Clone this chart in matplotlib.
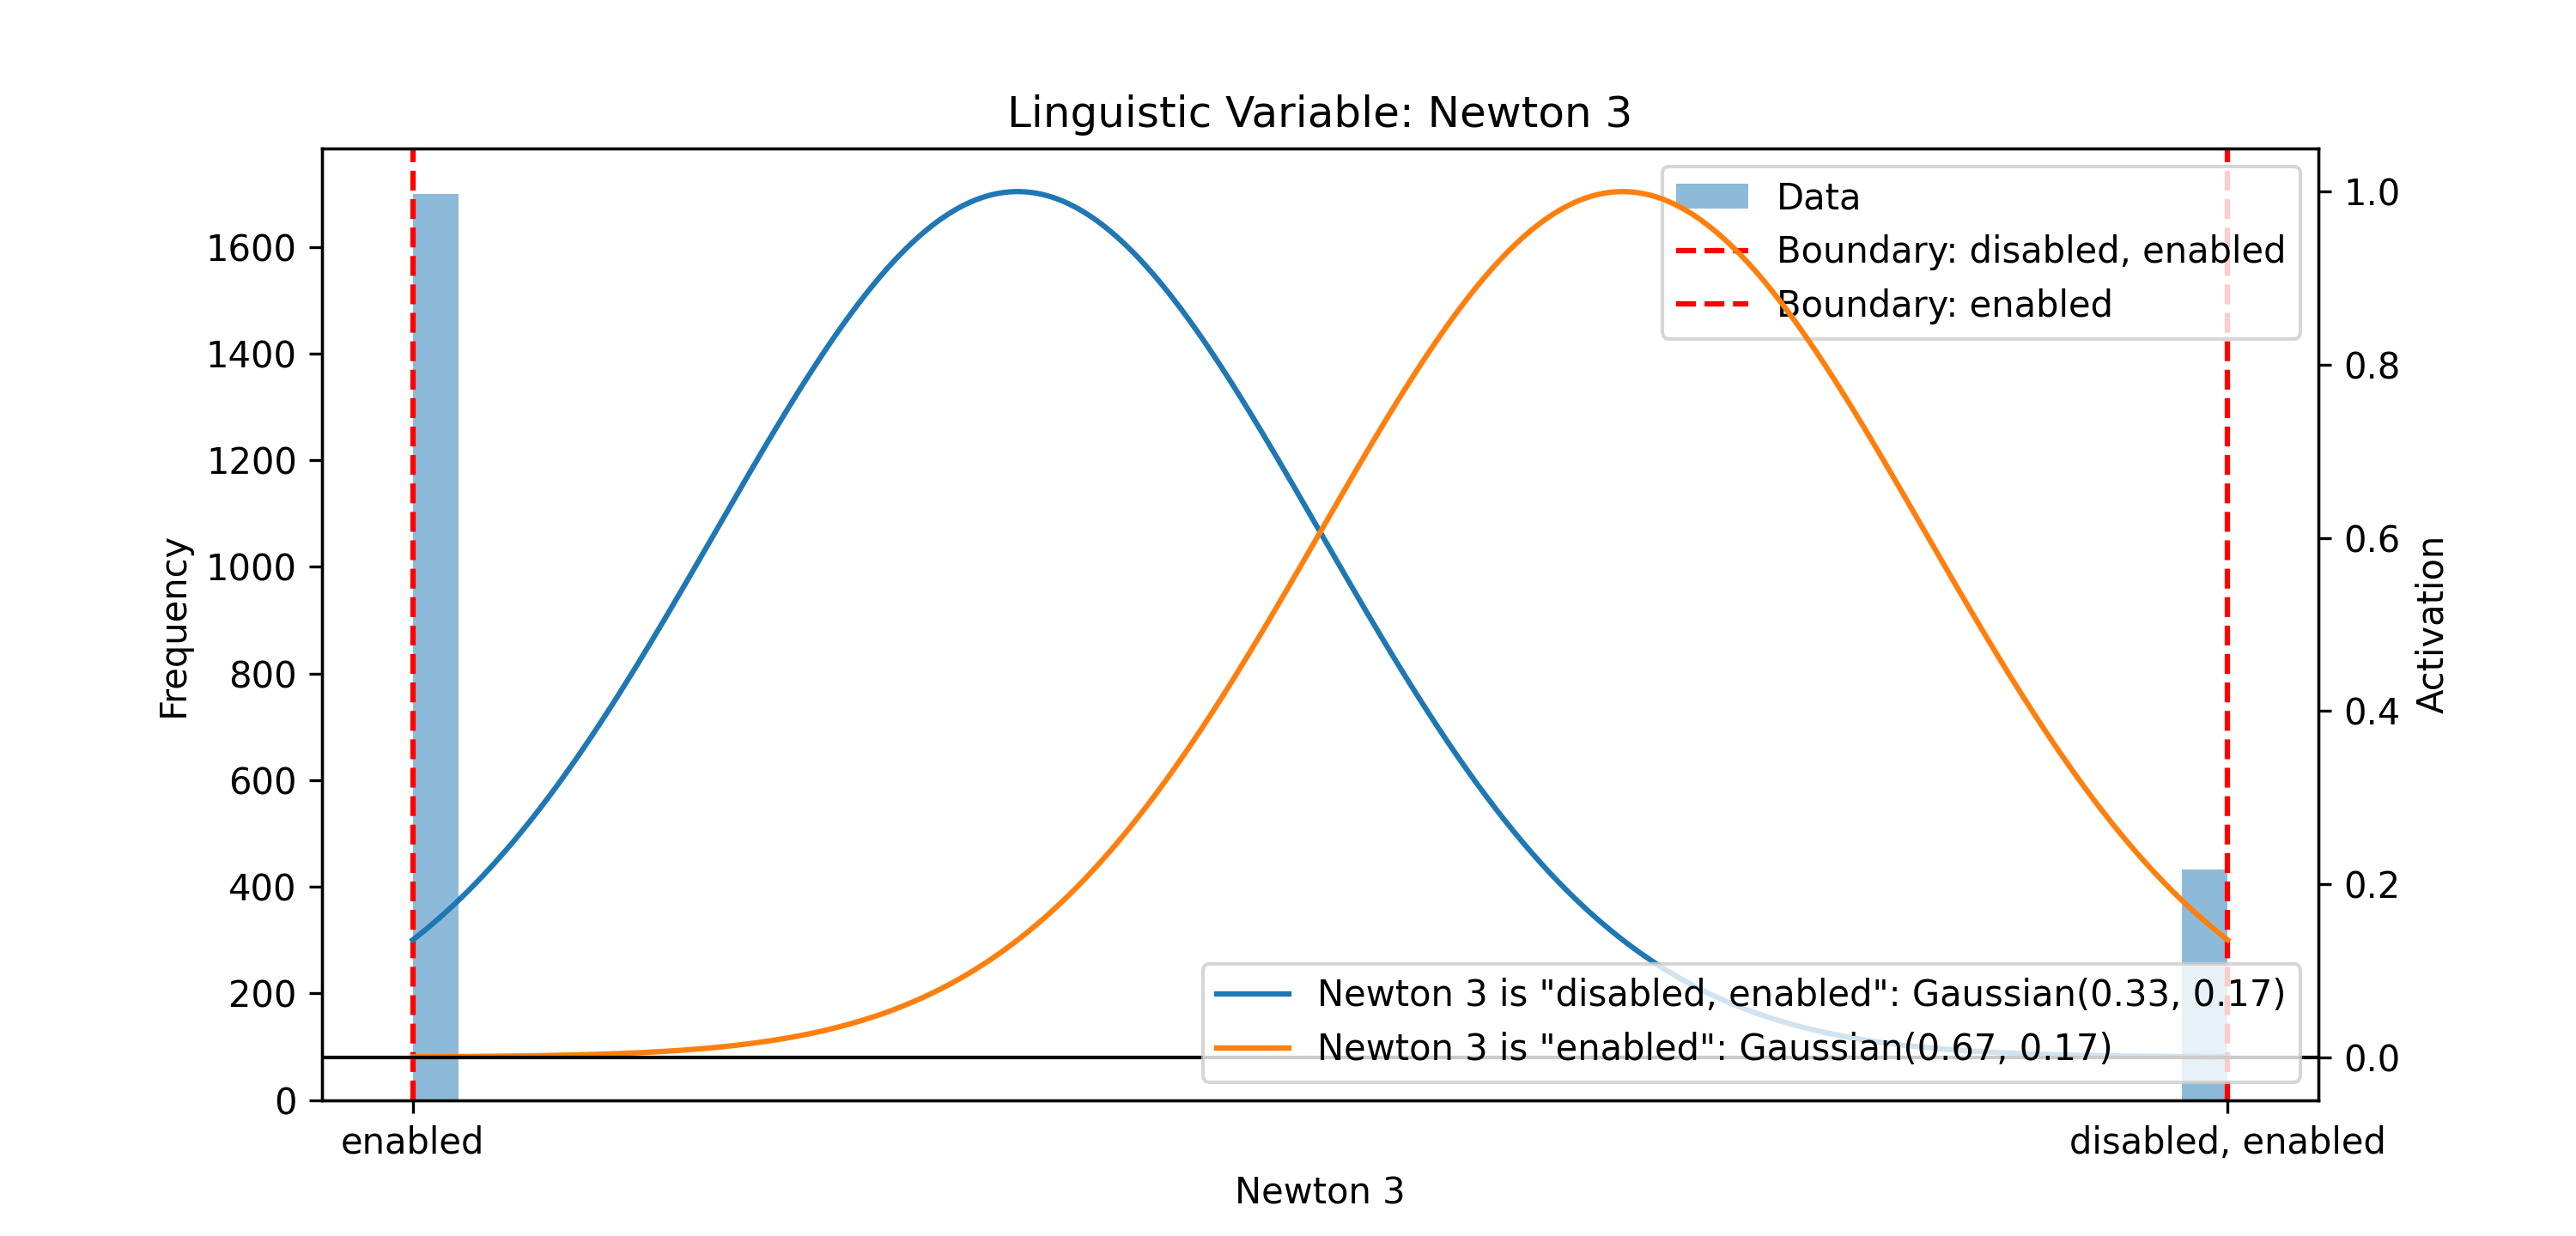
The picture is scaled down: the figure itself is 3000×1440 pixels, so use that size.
import numpy as np
import matplotlib
matplotlib.use('Agg')
import matplotlib.pyplot as plt

name = 'Newton 3'
bin_positions = [0.0, 1.0]
bin_counts = [1700, 432]
tick_positions = [0.0, 1.0]
tick_labels = ['enabled', 'disabled, enabled']
boundaries = [1.0, 0.0]
boundary_labels = ['disabled, enabled', 'enabled']
terms = ['disabled, enabled', 'enabled']
means = [1/3, 2/3]
sigmas = [1/6, 1/6]

fig, ax = plt.subplots(figsize=(10, 4.8), dpi=300)
ax.hist(bin_positions, bins=40, range=(0, 1), weights=bin_counts, alpha=0.5, label='Data')
for b, lbl in zip(boundaries, boundary_labels):
    ax.axvline(b, color='r', linestyle='--', label='Boundary: ' + lbl)
ax.set_xticks(tick_positions)
ax.set_xticklabels(tick_labels)
ax.set_xlabel(name)
ax.set_ylabel('Frequency')
ax.legend(loc='upper right')

ax2 = ax.twinx()
x = np.linspace(0, 1, 1000)
for term, m, s in zip(terms, means, sigmas):
    y = np.exp(-0.5 * ((x - m) / s) ** 2)
    ax2.plot(x, y, label='%s is "%s": Gaussian(%.2f, %.2f)' % (name, term, m, s))
ax2.axhline(0, color='black', linewidth=1)
ax2.set_ylabel('Activation')
ax2.legend(loc='lower right')

plt.title('Linguistic Variable: ' + name)
plt.savefig('out.png')
